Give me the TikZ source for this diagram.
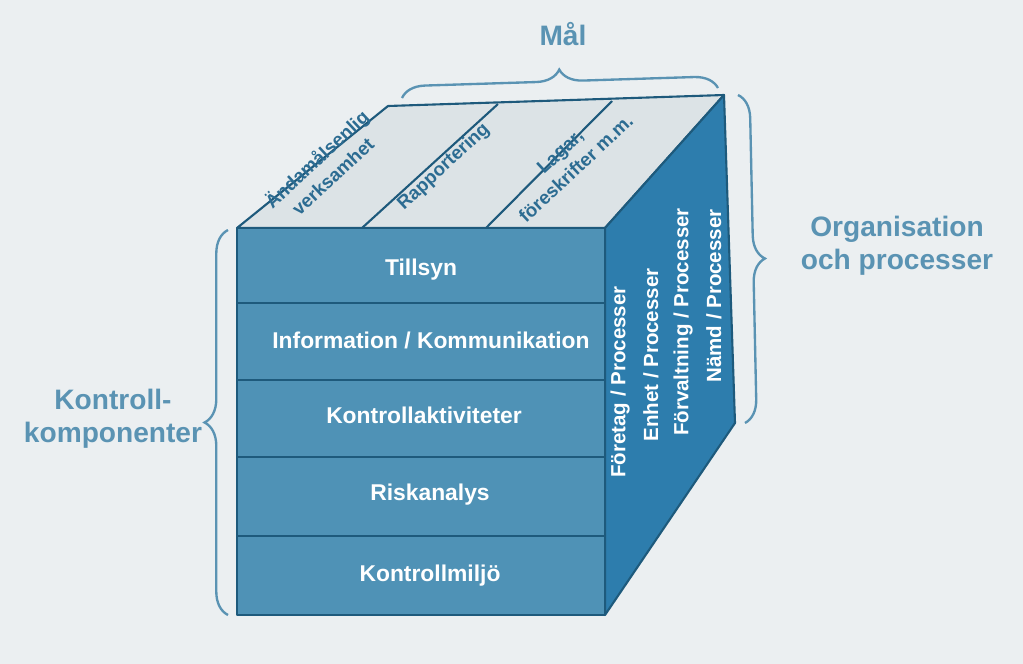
\documentclass[tikz,border=0pt]{standalone}
\usepackage{fontspec}
\setmainfont{Liberation Sans}
\usetikzlibrary{decorations.pathreplacing}
\definecolor{bg}{HTML}{EBEFF1}
\definecolor{frontc}{HTML}{4F92B6}
\definecolor{sidec}{HTML}{2D7DAD}
\definecolor{topc}{HTML}{DCE3E6}
\definecolor{edgec}{HTML}{1E5A7C}
\definecolor{labc}{HTML}{5A93B3}
\definecolor{toptxt}{HTML}{2C6C92}
\tikzset{
  face/.style={draw=edgec, line width=1.8pt, line join=round},
  wtxt/.style={text=white, font=\bfseries\fontsize{19.5}{22}\selectfont, align=center},
  stxt/.style={text=white, font=\bfseries\fontsize{17.5}{22}\selectfont, align=center, rotate=90},
  ttxt/.style={text=toptxt, font=\bfseries\fontsize{16}{19}\selectfont, align=center, rotate=43},
  lab/.style={text=labc, font=\bfseries\fontsize{24}{28}\selectfont, align=center},
  brc/.style={draw=labc, line width=2pt, decorate, decoration={brace, amplitude=20pt}}
}
\begin{document}
\begin{tikzpicture}[x=0.03cm,y=-0.03cm]
\fill[bg] (0,0) rectangle (1023,664);
\useasboundingbox (0,0) rectangle (1023,664);
\coordinate (FL) at (237,228);
\coordinate (FR) at (605,228);
\coordinate (BL) at (388,106);
\coordinate (BR) at (724,95);
\coordinate (SB) at (735,423);
\coordinate (FBR) at (605,615);
\coordinate (FBL) at (237,615);
\filldraw[face, fill=topc] (FL) -- (BL) -- (BR) -- (FR) -- cycle;
\filldraw[face, fill=sidec] (FR) -- (BR) -- (SB) -- (FBR) -- cycle;
\filldraw[face, fill=frontc] (FL) -- (FR) -- (FBR) -- (FBL) -- cycle;
\foreach \y in {303,380,457,536} \draw[edgec, line width=1.8pt] (237,\y) -- (605,\y);
\draw[edgec, line width=1.8pt] (362,228) -- (498,104);
\draw[edgec, line width=1.8pt] (486,228) -- (612,101);
\node[wtxt] (r1) at (421,270) {Tillsyn};
\node[wtxt] (r2) at (431,340) {Information / Kommunikation};
\node[wtxt] (r3) at (424,415) {Kontrollaktiviteter};
\node[wtxt] (r4) at (430,495) {Riskanalys};
\node[wtxt] (r5) at (430,576) {Kontrollmiljö};
\node[stxt] (s1) at (620,382) {Företag / Processer};
\node[stxt] (s2) at (651,355) {Enhet / Processer};
\node[stxt] (s3) at (683,322) {Förvaltning / Processer};
\node[stxt] (s4) at (714,296) {Nämd / Processer};
\node[ttxt] (t1) at (324,167) {Ändamålsenlig\\[1pt]verksamhet};
\node[ttxt] (t2) at (444,167) {Rapportering};
\node[ttxt] (t3) at (568,160) {Lagar,\\[1pt]föreskrifter m.m.};
\coordinate (b1a) at (402,98);
\coordinate (b1b) at (718,88);
\draw[brc] (b1a) -- (b1b);
\node[lab] (mal) at (563,34) {Mål};
\coordinate (b2a) at (738,95);
\coordinate (b2b) at (745,423);
\draw[brc] (b2a) -- (b2b);
\node[lab] (org) at (897,246) {Organisation\\och processer};
\coordinate (b3a) at (228,615);
\coordinate (b3b) at (228,230);
\draw[brc] (b3a) -- (b3b);
\node[lab] (kk) at (113,419) {Kontroll-\\komponenter};
\end{tikzpicture}
\end{document}
